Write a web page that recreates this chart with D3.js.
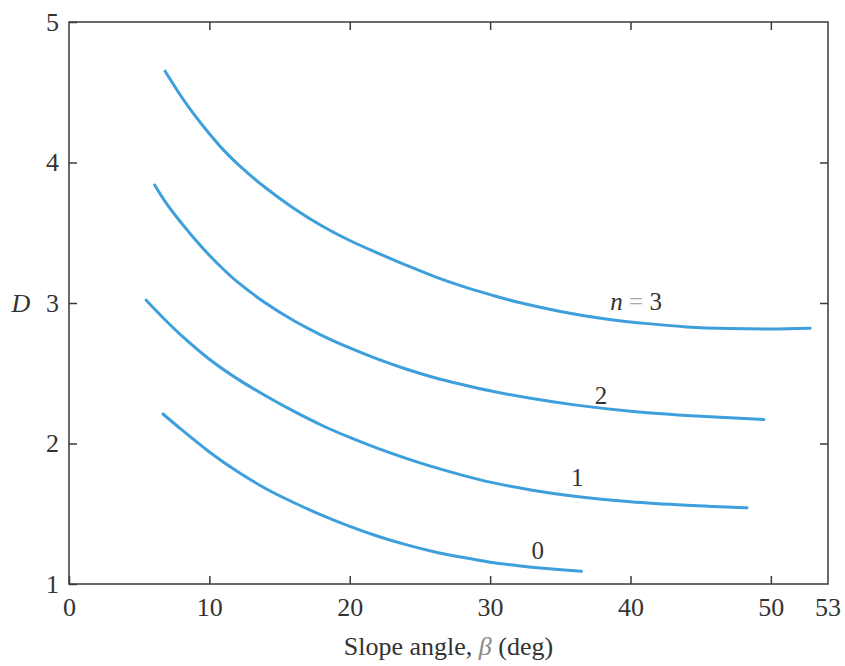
<!DOCTYPE html>
<html>
<head>
<meta charset="utf-8">
<script src="https://cdn.jsdelivr.net/npm/d3@7"></script>
<style>
  body { margin: 0; background: #fff; }
  svg { display: block; }
  text { font-family: "Liberation Serif", "Times New Roman", "DejaVu Serif", serif; fill: #333; }
</style>
</head>
<body>
<svg id="chart" width="845" height="666"></svg>
<script>
// ---- data ----
const xTicks = [0, 10, 20, 30, 40, 50];
const xEndLabel = "53";
const yTicks = [1, 2, 3, 4, 5];
const seriesNames = ["0", "1", "2", "n = 3"];

const curveN0 = [[6.7,2.21],[8,2.10],[10,1.94],[12,1.80],[14,1.68],[16,1.58],[18,1.49],[20,1.41],[22,1.34],[24,1.28],[26,1.23],[28,1.19],[30,1.155],[32,1.13],[34,1.11],[36.5,1.09]];
const curveN1 = [[5.5,3.02],[7,2.865],[8,2.77],[10,2.60],[12,2.46],[14,2.34],[16,2.23],[18,2.13],[20,2.043],[22,1.965],[25,1.862],[28,1.775],[30,1.725],[33,1.668],[36,1.625],[40,1.585],[44,1.56],[48.3,1.542]];
const curveN2 = [[6.1,3.84],[7,3.70],[8,3.57],[9,3.45],[10,3.34],[11,3.24],[12,3.15],[14,3.00],[16,2.875],[18,2.77],[20,2.68],[22,2.60],[24,2.53],[26,2.47],[28,2.42],[30,2.375],[33,2.32],[36,2.275],[40,2.23],[44,2.20],[49.5,2.17]];
const curveN3 = [[6.85,4.65],[8,4.47],[9,4.33],[10,4.205],[11,4.09],[12,3.99],[14,3.82],[16,3.675],[18,3.55],[20,3.445],[22,3.355],[24,3.27],[26,3.19],[28,3.12],[30,3.06],[32,3.005],[35,2.94],[38,2.89],[41,2.855],[44,2.83],[47,2.818],[50,2.815],[52.8,2.82]];
const curves = [curveN0, curveN1, curveN2, curveN3];
// label anchor points (data coords)
const labelPos = [[33.4,1.24],[36.2,1.755],[37.9,2.34],[40.4,3.01]];

// ---- layout ----
const svg = d3.select("#chart");
const mLeft = 69, mRight = 828, mTop = 22, mBottom = 584;
const x = d3.scaleLinear().domain([0, 54.07]).range([mLeft, mRight]);
const y = d3.scaleLinear().domain([1, 5]).range([mBottom, mTop]);
const frameColor = "#3a3a3a";
const lineColor = "#3d9fdc";
const fontSize = 26;

// frame
svg.append("rect")
  .attr("x", mLeft).attr("y", mTop)
  .attr("width", mRight - mLeft).attr("height", mBottom - mTop)
  .attr("fill", "none").attr("stroke", frameColor).attr("stroke-width", 1.5);

// inward ticks on all four sides
function styleAxis(g) {
  g.select(".domain").remove();
  g.attr("font-family", null);
  g.selectAll(".tick line").attr("stroke", frameColor).attr("stroke-width", 1.5);
  g.selectAll(".tick text").attr("font-size", fontSize).attr("fill", "#333");
}
svg.append("g").attr("transform", `translate(0,${mBottom})`)
  .call(d3.axisBottom(x).tickValues(xTicks).tickSizeInner(-8).tickSizeOuter(0).tickPadding(14).tickFormat(d3.format("d")))
  .call(styleAxis);
svg.append("g").attr("transform", `translate(0,${mTop})`)
  .call(d3.axisTop(x).tickValues(xTicks.slice(1)).tickSizeInner(-8).tickSizeOuter(0).tickFormat(""))
  .call(styleAxis);
svg.append("g").attr("transform", `translate(${mLeft},0)`)
  .call(d3.axisLeft(y).tickValues(yTicks).tickSizeInner(-8).tickSizeOuter(0).tickPadding(10).tickFormat(d3.format("d")))
  .call(styleAxis);
svg.append("g").attr("transform", `translate(${mRight},0)`)
  .call(d3.axisRight(y).tickValues(yTicks.slice(1, 4)).tickSizeInner(-8).tickSizeOuter(0).tickFormat(""))
  .call(styleAxis);

// end label "53" at right edge, aligned with the other x tick labels
svg.append("text")
  .attr("x", mRight).attr("y", mBottom + 14).attr("dy", "0.71em")
  .attr("text-anchor", "middle").attr("font-size", fontSize)
  .text(xEndLabel);

// axis titles
const xt = svg.append("text")
  .attr("x", (mLeft + mRight) / 2).attr("y", 655)
  .attr("text-anchor", "middle").attr("font-size", fontSize);
xt.append("tspan").text("Slope angle, ");
xt.append("tspan").attr("font-style", "italic").attr("fill", "#888").text("β");
xt.append("tspan").text(" (deg)");

svg.append("text")
  .attr("x", 21).attr("y", y(3)).attr("dy", "0.33em")
  .attr("text-anchor", "middle").attr("font-size", fontSize).attr("font-style", "italic")
  .text("D");

// curves
const line = d3.line().x(d => x(d[0])).y(d => y(d[1])).curve(d3.curveCatmullRom.alpha(0.5));
svg.append("g").selectAll("path").data(curves).join("path")
  .attr("d", line)
  .attr("fill", "none").attr("stroke", lineColor).attr("stroke-width", 3)
  .attr("stroke-linecap", "round");

// curve labels
svg.append("g").selectAll("text").data(seriesNames).join("text")
  .attr("x", (d, i) => x(labelPos[i][0]))
  .attr("y", (d, i) => y(labelPos[i][1]))
  .attr("dy", "0.33em")
  .attr("text-anchor", "middle").attr("font-size", 25)
  .each(function(d) {
    const t = d3.select(this);
    if (d.startsWith("n")) {
      t.append("tspan").attr("font-style", "italic").text("n");
      t.append("tspan").attr("fill", "#aaa").text(" = ");
      t.append("tspan").text("3");
    } else {
      t.text(d);
    }
  });
</script>
</body>
</html>
